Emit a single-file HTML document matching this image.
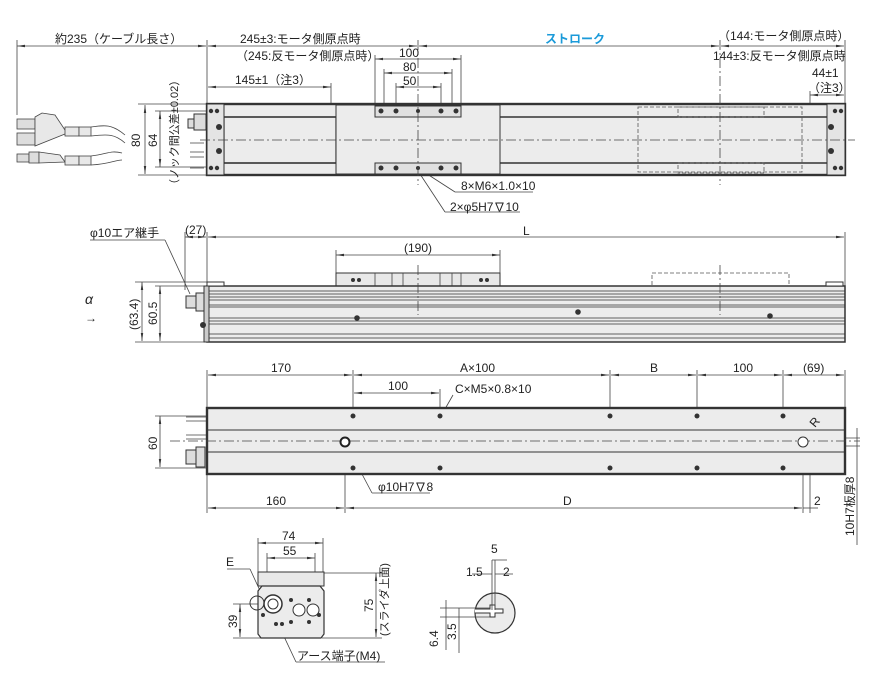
<!DOCTYPE html>
<html><head><meta charset="utf-8"><style>
html,body{margin:0;padding:0;background:#fff;}
svg{display:block;}
text{font-family:"Liberation Sans","Noto Sans CJK JP",sans-serif;font-size:12px;fill:#222;}
.b{fill:#ececec;stroke:#333;stroke-width:1.2}
.t{fill:none;stroke:#333;stroke-width:2.4}
.l{fill:none;stroke:#444;stroke-width:0.8}
.d{fill:none;stroke:#444;stroke-width:0.8;stroke-dasharray:10 3 2 3}
.h{fill:none;stroke:#555;stroke-width:0.8;stroke-dasharray:4 2}
.dot{fill:#333}
</style></head><body>
<svg width="883" height="676" viewBox="0 0 883 676" xmlns="http://www.w3.org/2000/svg">
<defs>
<marker id="a" viewBox="0 0 10 6" refX="10" refY="3" markerWidth="10" markerHeight="6" orient="auto-start-reverse"><path d="M0,1.5L10,3L0,4.5z" fill="#333"/></marker>
</defs>
<g class="l" marker-start="url(#a)" marker-end="url(#a)">
<!-- top dims -->
<line x1="17" y1="46" x2="206" y2="46"/>
<line x1="208" y1="46" x2="417" y2="46"/>
<line x1="419" y1="46" x2="719" y2="46"/>
<line x1="721" y1="46" x2="844" y2="46"/>
<line x1="375" y1="59" x2="461" y2="59"/>
<line x1="384" y1="73" x2="452" y2="73"/>
<line x1="396" y1="87" x2="441" y2="87"/>
<line x1="208" y1="87" x2="331" y2="87"/>
<line x1="810" y1="95" x2="844" y2="95"/>
<line x1="145" y1="105" x2="145" y2="174"/>
<line x1="160" y1="111" x2="160" y2="167"/>
<!-- side dims -->
<line x1="185" y1="237" x2="206" y2="237"/>
<line x1="208" y1="237" x2="844" y2="237"/>
<line x1="336" y1="255" x2="500" y2="255"/>
<line x1="142" y1="282" x2="142" y2="341"/>
<line x1="160" y1="286" x2="160" y2="341"/>
<!-- bottom dims -->
<line x1="208" y1="375" x2="352" y2="375"/>
<line x1="354" y1="375" x2="609" y2="375"/>
<line x1="611" y1="375" x2="696" y2="375"/>
<line x1="698" y1="375" x2="782" y2="375"/>
<line x1="784" y1="375" x2="844" y2="375"/>
<line x1="354" y1="393" x2="439" y2="393"/>
<line x1="160" y1="416" x2="160" y2="467"/>
<line x1="208" y1="508" x2="344" y2="508"/>
<line x1="346" y1="508" x2="802" y2="508"/>
<line x1="258" y1="543" x2="323" y2="543"/>
<line x1="267" y1="558" x2="315" y2="558"/>
<line x1="240" y1="604" x2="240" y2="637"/>
<line x1="376" y1="573" x2="376" y2="637"/>
</g>
<g class="l">
<line x1="17" y1="40" x2="17" y2="115"/><line x1="207" y1="40" x2="207" y2="104"/>
<line x1="845" y1="40" x2="845" y2="104"/>
<line x1="375" y1="55" x2="375" y2="106"/><line x1="461" y1="55" x2="461" y2="106"/>
<line x1="384" y1="69" x2="384" y2="106"/><line x1="452" y1="69" x2="452" y2="106"/>
<line x1="396" y1="83" x2="396" y2="106"/><line x1="441" y1="83" x2="441" y2="106"/>
<line x1="331" y1="83" x2="331" y2="104"/><line x1="810" y1="91" x2="810" y2="104"/>
<line x1="138" y1="104" x2="207" y2="104"/><line x1="138" y1="175" x2="207" y2="175"/>
<line x1="155" y1="111" x2="210" y2="111"/><line x1="155" y1="167" x2="210" y2="167"/>
<line x1="185" y1="232" x2="185" y2="290"/><line x1="207" y1="232" x2="207" y2="286"/>
<line x1="845" y1="232" x2="845" y2="286"/>
<line x1="336" y1="250" x2="336" y2="273"/><line x1="500" y1="250" x2="500" y2="273"/>
<line x1="135" y1="282" x2="207" y2="282"/><line x1="135" y1="342" x2="207" y2="342"/>
<line x1="155" y1="286" x2="207" y2="286"/>
<line x1="207" y1="370" x2="207" y2="408"/><line x1="353" y1="370" x2="353" y2="416"/>
<line x1="610" y1="370" x2="610" y2="416"/><line x1="697" y1="370" x2="697" y2="416"/>
<line x1="783" y1="370" x2="783" y2="416"/><line x1="845" y1="370" x2="845" y2="408"/>
<line x1="440" y1="389" x2="440" y2="416"/>
<line x1="155" y1="416" x2="353" y2="416"/><line x1="155" y1="468" x2="353" y2="468"/>
<line x1="207" y1="474" x2="207" y2="513"/><line x1="345" y1="442" x2="345" y2="513"/>
<line x1="803" y1="442" x2="803" y2="513"/><line x1="810" y1="442" x2="810" y2="513"/>
<line x1="803" y1="508" x2="818" y2="508"/>
<line x1="805" y1="438" x2="860" y2="438"/><line x1="805" y1="446" x2="860" y2="446"/>
<line x1="857" y1="428" x2="857" y2="545"/>
<line x1="258" y1="538" x2="258" y2="572"/><line x1="323" y1="538" x2="323" y2="572"/>
<line x1="267" y1="553" x2="267" y2="572"/><line x1="315" y1="553" x2="315" y2="572"/>
<line x1="233" y1="604" x2="258" y2="604"/><line x1="233" y1="638" x2="262" y2="638"/>
<line x1="324" y1="573" x2="382" y2="573"/><line x1="322" y1="638" x2="382" y2="638"/>
<!-- leaders -->
<line x1="424" y1="172" x2="455" y2="192"/><line x1="455" y1="192" x2="533" y2="192"/>
<line x1="420" y1="174" x2="445" y2="212"/><line x1="445" y1="212" x2="520" y2="212"/>
<line x1="90" y1="240" x2="165" y2="240"/><line x1="165" y1="240" x2="190" y2="294"/>
<line x1="441" y1="416" x2="453" y2="395"/>
<line x1="345" y1="442" x2="372" y2="493"/><line x1="372" y1="493" x2="430" y2="493"/>
<line x1="803" y1="442" x2="818" y2="424"/>
<line x1="227" y1="569" x2="250" y2="569"/><line x1="250" y1="569" x2="262" y2="595"/>
<line x1="280" y1="628" x2="296" y2="662"/><line x1="296" y1="662" x2="385" y2="662"/>
</g>
<!-- TOP VIEW -->
<rect class="b" x="207" y="104" width="638" height="71"/>
<rect class="t" x="207" y="104" width="638" height="71" fill="none"/>
<rect class="b" x="224" y="117" width="112" height="46" style="fill:#ececec"/>
<line class="t" x1="224" y1="117" x2="336" y2="117" style="stroke-width:1.6"/>
<line class="t" x1="224" y1="163" x2="336" y2="163" style="stroke-width:1.6"/>
<line class="t" x1="500" y1="117" x2="827" y2="117" style="stroke-width:1.6"/>
<line class="t" x1="500" y1="163" x2="827" y2="163" style="stroke-width:1.6"/>
<rect x="207" y="104" width="17" height="71" fill="#e4e4e4" stroke="#333"/>
<rect x="827" y="104" width="18" height="71" fill="#e4e4e4" stroke="#333"/>
<rect x="336" y="105" width="164" height="69" fill="#ececec" stroke="#333"/>
<rect x="375" y="106" width="86" height="11" fill="#e0e0e0" stroke="#333"/>
<rect x="375" y="163" width="86" height="11" fill="#e0e0e0" stroke="#333"/>
<g class="dot">
<circle cx="381" cy="111" r="2.5"/><circle cx="396" cy="111" r="2.5"/><circle cx="418" cy="111" r="2"/><circle cx="441" cy="111" r="2.5"/><circle cx="456" cy="111" r="2.5"/>
<circle cx="381" cy="168" r="2.5"/><circle cx="396" cy="168" r="2.5"/><circle cx="418" cy="168" r="2"/><circle cx="441" cy="168" r="2.5"/><circle cx="456" cy="168" r="2.5"/>
<circle cx="211" cy="111" r="2.2"/><circle cx="217" cy="111" r="2.2"/><circle cx="211" cy="168" r="2.2"/><circle cx="217" cy="168" r="2.2"/>
<circle cx="219" cy="127" r="3"/><circle cx="219" cy="151" r="3"/>
<circle cx="835" cy="111" r="2.2"/><circle cx="841" cy="111" r="2.2"/><circle cx="835" cy="168" r="2.2"/><circle cx="841" cy="168" r="2.2"/>
<circle cx="831" cy="127" r="3"/><circle cx="831" cy="151" r="3"/>
</g>
<rect class="h" x="638" y="107" width="164" height="65"/>
<rect class="h" x="678" y="107" width="86" height="10"/><rect class="h" x="678" y="163" width="86" height="10"/>
<line class="d" x1="200" y1="140" x2="855" y2="140"/>
<line class="d" x1="418" y1="40" x2="418" y2="185"/>
<line class="d" x1="720" y1="40" x2="720" y2="185"/>
<!-- fittings -->
<rect x="194" y="114" width="12" height="16" fill="#ddd" stroke="#333"/>
<rect x="188" y="119" width="6" height="9" fill="#ddd" stroke="#333"/>
<path class="l" d="M190,143h14M190,152h14M190,157h14M190,168h14"/>
<!-- cables -->
<g class="l" style="stroke:#444">
<rect x="17" y="119" width="18" height="10" fill="#ddd"/><rect x="17" y="133" width="18" height="12" fill="#ddd"/>
<path d="M35,117L42,113L55,115L65,130L70,132L35,146z" fill="#e8e8e8"/>
<rect x="65" y="127" width="14" height="9" fill="#e8e8e8"/><rect x="79" y="127" width="12" height="9" fill="#e8e8e8"/>
<path d="M91,127C105,125 112,124 125,135M91,136C108,134 115,134 125,143" />
<rect x="17" y="154" width="12" height="8" fill="#ddd"/><rect x="29" y="152" width="10" height="11" fill="#ddd"/>
<path d="M39,152L60,155L65,162L39,163z" fill="#e8e8e8"/>
<rect x="65" y="156" width="14" height="9" fill="#e8e8e8"/><rect x="79" y="156" width="12" height="9" fill="#e8e8e8"/>
<path d="M91,156C108,154 110,150 122,153M91,165C110,164 115,160 122,160"/>
</g>
<!-- SIDE VIEW -->
<rect x="336" y="273" width="164" height="13" fill="#e8e8e8" stroke="#333"/>
<path class="l" d="M375,273v13M461,273v13M392,273v13M403,273v13M440,273v13M452,273v13"/>
<rect class="h" x="652" y="273" width="137" height="13"/>
<rect x="207" y="286" width="638" height="56" fill="#ececec" stroke="#333" stroke-width="1.5"/>
<path class="l" style="stroke:#333" d="M207,291h638M207,294h638M207,297h638M207,300h638M207,305h638M207,307h638M207,318h638M207,321h638M207,324h638M207,334h638M207,338h638"/>
<rect x="204" y="286" width="5" height="56" fill="#ccc" stroke="#333"/>
<rect x="207" y="282" width="17" height="4" fill="#fff" stroke="#333"/>
<rect x="826" y="282" width="17" height="4" fill="#fff" stroke="#333"/>
<rect x="196" y="293" width="8" height="18" fill="#ddd" stroke="#333"/>
<rect x="186" y="296" width="10" height="12" fill="#ddd" stroke="#333"/>
<circle class="dot" cx="203" cy="325" r="3"/>
<g class="dot"><circle cx="357" cy="318" r="2.8"/><circle cx="578" cy="312" r="2.8"/><circle cx="770" cy="316" r="2.8"/>
<circle cx="353" cy="280" r="2"/><circle cx="359" cy="280" r="2"/><circle cx="481" cy="280" r="2"/><circle cx="487" cy="280" r="2"/></g>
<line class="d" x1="418" y1="265" x2="418" y2="315"/>
<line class="d" x1="720" y1="265" x2="720" y2="315"/>
<!-- BOTTOM VIEW -->
<rect x="207" y="408" width="638" height="66" fill="#ececec" stroke="#333" stroke-width="2.4"/>
<path class="l" style="stroke:#333;stroke-width:1" d="M207,430h638M207,452h638"/>
<line class="d" x1="170" y1="441" x2="860" y2="441"/>
<g class="dot"><circle cx="353" cy="416" r="2.5"/><circle cx="440" cy="416" r="2.5"/><circle cx="610" cy="416" r="2.5"/><circle cx="697" cy="416" r="2.5"/><circle cx="783" cy="416" r="2.5"/>
<circle cx="353" cy="468" r="2.5"/><circle cx="440" cy="468" r="2.5"/><circle cx="610" cy="468" r="2.5"/><circle cx="697" cy="468" r="2.5"/><circle cx="783" cy="468" r="2.5"/></g>
<circle cx="345" cy="442" r="4.5" fill="#fff" stroke="#222" stroke-width="2"/>
<circle cx="803" cy="442" r="5" fill="#fff" stroke="#333"/>
<path class="l" d="M186,417h20M186,421h20M186,435h20M186,439h20"/>
<rect x="196" y="447" width="9" height="20" fill="#ddd" stroke="#333"/>
<rect x="186" y="450" width="10" height="14" fill="#ddd" stroke="#333"/>
<!-- END VIEW -->
<rect x="258" y="572" width="66" height="14" fill="#e8e8e8" stroke="#333"/>
<path d="M262,586h58l4,5v43l-3,4h-60l-3,-4v-43z" fill="#ececec" stroke="#333" stroke-width="1.2"/>
<circle cx="273" cy="604" r="9" fill="#fff" stroke="#333" stroke-width="1.5"/><circle cx="273" cy="604" r="5" fill="#fff" stroke="#333"/>
<circle cx="299" cy="610" r="6" fill="#fff" stroke="#333"/><circle cx="313" cy="610" r="6" fill="#fff" stroke="#333"/>
<circle cx="257" cy="603" r="7" fill="none" stroke="#333"/>
<g class="dot"><circle cx="291" cy="600" r="2"/><circle cx="309" cy="600" r="2"/><circle cx="291" cy="622" r="2"/><circle cx="309" cy="622" r="2"/><circle cx="263" cy="615" r="2"/><circle cx="319" cy="615" r="2"/><circle cx="276" cy="624" r="2"/><circle cx="282" cy="624" r="2"/></g>
<!-- detail -->
<circle cx="495" cy="613" r="20" fill="#ececec" stroke="#333" stroke-width="1.2"/>
<path d="M475,609h15v-4h5v4h8v4h-8v4h-5v-4h-15" fill="#fff" stroke="#333"/>
<g class="l"><path d="M492,560v50M495,560v50M492,574h-20M495,574h18M492,560h15"/>
<path d="M440,608h50M440,617h50M459,608v45M446,600v50"/></g>
<!-- TEXT -->
<text x="55" y="43">約235（ケーブル長さ）</text>
<text x="240" y="43">245±3:モータ側原点時</text>
<text x="236" y="60">（245:反モータ側原点時）</text>
<text x="545" y="43" style="fill:#1a9ad9;font-weight:bold">ストローク</text>
<text x="718" y="40">（144:モータ側原点時）</text>
<text x="713" y="60">144±3:反モータ側原点時</text>
<text x="399" y="57">100</text><text x="403" y="71">80</text><text x="403" y="85">50</text>
<text x="235" y="84">145±1（注3）</text>
<text x="812" y="77">44±1</text><text x="808" y="92">（注3）</text>
<text transform="translate(140,147) rotate(-90)">80</text>
<text transform="translate(157,147) rotate(-90)">64</text>
<text transform="translate(178,190) rotate(-90)" style="font-size:11px">（ノック間公差±0.02）</text>
<text x="461" y="190">8×M6×1.0×10</text>
<text x="450" y="211">2×φ5H7∇10</text>
<text x="90" y="237">φ10エア継手</text>
<text x="185" y="234">(27)</text>
<text x="523" y="235">L</text>
<text x="404" y="252">(190)</text>
<text x="85" y="304" style="font-size:14px;font-style:italic">α</text>
<text x="85" y="322">→</text>
<text transform="translate(138,330) rotate(-90)">(63.4)</text>
<text transform="translate(157,325) rotate(-90)">60.5</text>
<text x="271" y="372">170</text><text x="460" y="372">A×100</text><text x="650" y="372">B</text><text x="733" y="372">100</text><text x="803" y="372">(69)</text>
<text x="388" y="390">100</text>
<text x="455" y="393">C×M5×0.8×10</text>
<text transform="translate(157,450) rotate(-90)">60</text>
<text x="378" y="491">φ10H7∇8</text>
<text x="815" y="428" transform="rotate(-50 815 428)">R</text>
<text x="266" y="505">160</text><text x="563" y="505">D</text><text x="814" y="505">2</text>
<text transform="translate(854,536) rotate(-90)">10H7板厚8</text>
<text x="282" y="540">74</text><text x="283" y="555">55</text>
<text x="226" y="566">E</text>
<text transform="translate(237,628) rotate(-90)">39</text>
<text transform="translate(373,612) rotate(-90)">75</text>
<text transform="translate(388,636) rotate(-90)" style="font-size:11px">(スライダ上面)</text>
<text x="297" y="660">アース端子(M4)</text>
<text x="491" y="553">5</text><text x="466" y="576">1.5</text><text x="503" y="576">2</text>
<text transform="translate(438,647) rotate(-90)">6.4</text>
<text transform="translate(456,640) rotate(-90)">3.5</text>
</svg>
</body></html>
